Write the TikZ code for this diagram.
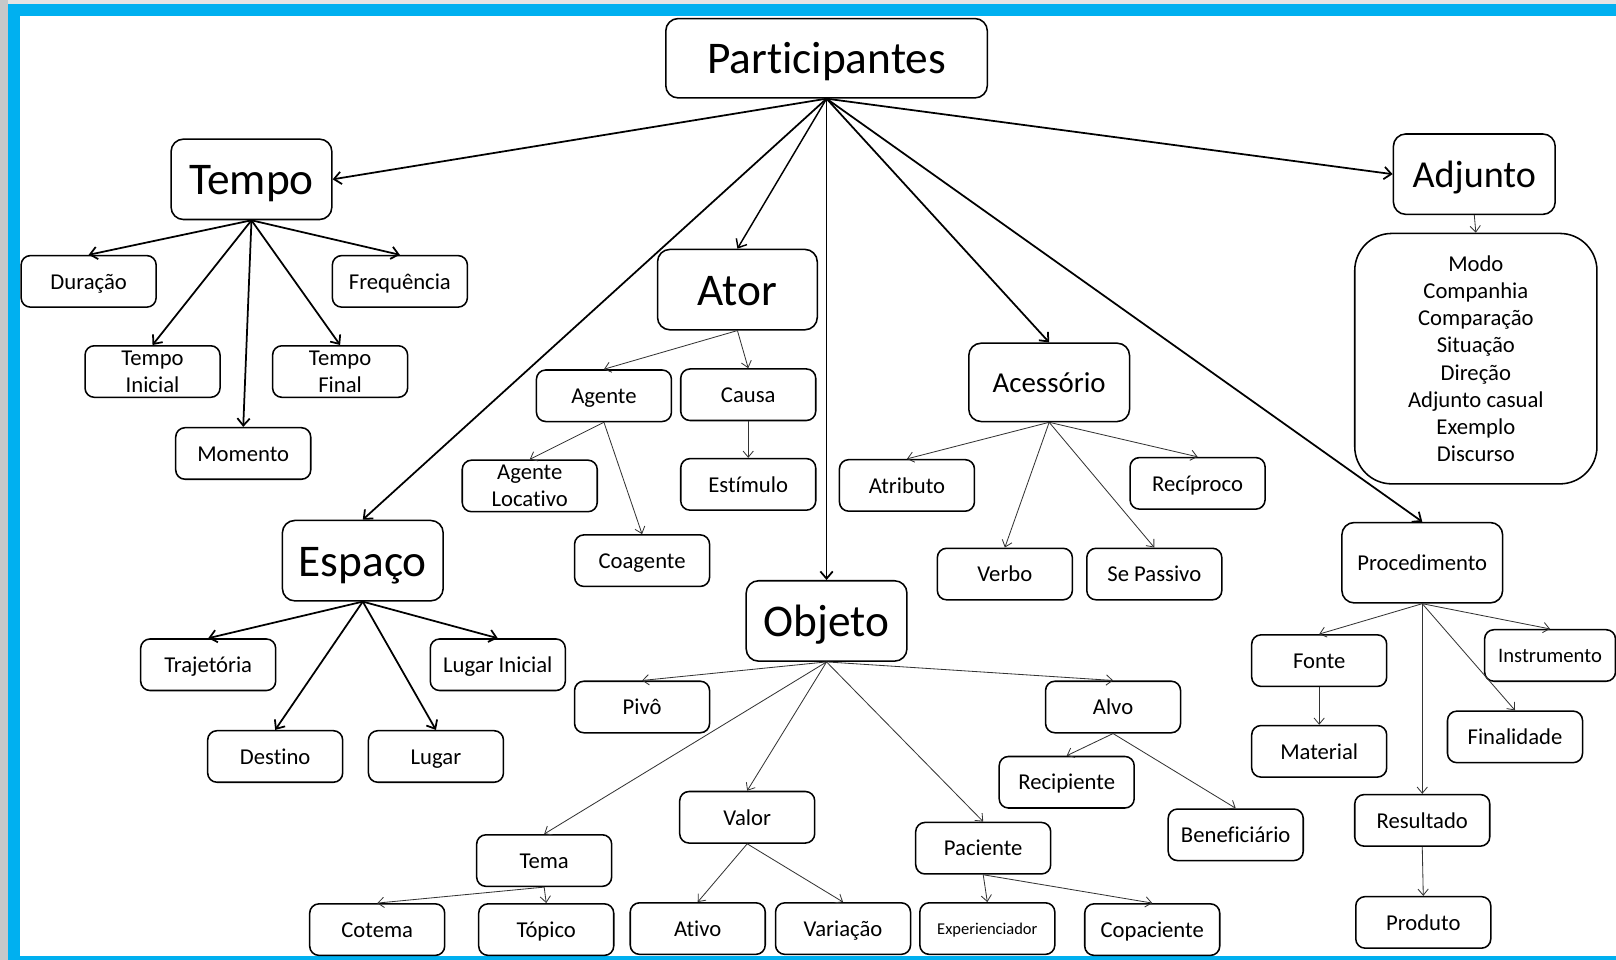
\documentclass[tikz,border=0pt]{standalone}
\usepackage{fontspec}
\setmainfont{Carlito}[Ligatures=NoCommon]
\usetikzlibrary{arrows.meta}
\definecolor{framecyan}{HTML}{00B0F0}
\definecolor{screengrey}{HTML}{E4E4E4}
\definecolor{sidegrey}{HTML}{C6C8C9}
\begin{document}
\begin{tikzpicture}[x=1pt,y=-1pt,
  boxbase/.style={draw, line width=1.5pt, rounded corners=9pt, fill=white,
    minimum width=131pt, minimum height=50pt, inner sep=0pt, align=center},
  box/.style={boxbase, font=\fontsize{22}{26}\selectfont, text height=20.5pt, text depth=5.5pt},
  listbox/.style={boxbase, font=\fontsize{22}{26}\selectfont},
  bigbox/.style={boxbase, rounded corners=12pt, minimum width=156pt, minimum height=78pt,
    font=\fontsize{44}{50}\selectfont, text height=40.9pt, text depth=11pt},
  heavyedge/.style={line width=1.7pt, -{Straight Barb[length=7pt,width=12pt]}},
  lightedge/.style={line width=0.8pt, draw=black!80, -{Straight Barb[length=6pt,width=10pt]}},
]
% window background and cyan frame
\fill[screengrey] (0,0) rectangle (1568,931);
\fill[sidegrey] (0,0) rectangle (7.8,931);
\fill[framecyan] (7.8,3.9) rectangle (1568,931);
\fill[white] (19.4,15.5) rectangle (1568,927.6);
\useasboundingbox (0,0) rectangle (1568,931);

% root
\node[bigbox, minimum width=312pt, minimum height=77pt] (part) at (802,56.5) {Participantes};

% main categories
\node[bigbox] (tempo)  at (244,174)   {Tempo};
\node[bigbox, minimum width=155pt] (ator) at (715.5,281) {Ator};
\node[bigbox] (espaco) at (352,544)   {Espaço};
\node[bigbox] (objeto) at (802,602.5) {Objeto};
\node[bigbox, minimum width=157pt, font=\fontsize{37}{44}\selectfont,
  text height=34.4pt, text depth=9.3pt] (adjunto) at (1430.5,169) {Adjunto};
\node[bigbox, minimum height=76pt, font=\fontsize{28}{34}\selectfont,
  text height=26pt, text depth=7pt] (acess) at (1018,371) {Acessório};
\node[bigbox, font=\fontsize{22}{26}\selectfont,
  text height=20.5pt, text depth=5.5pt] (proc) at (1380,546) {Procedimento};

% Tempo
\node[box] (duracao) at (86,273)  {Duração};
\node[box] (freq)    at (388,273) {Frequência};
\node[listbox] (tini) at (148,360.5) {Tempo\\Inicial};
\node[listbox] (tfin) at (330,360.5) {Tempo\\Final};
\node[box] (momento) at (236,440) {Momento};

% Ator
\node[box] (agente)  at (586,384) {Agente};
\node[box] (causa)   at (726,383) {Causa};
\node[listbox] (agloc) at (514,471.5) {Agente\\Locativo};
\node[box] (estim)   at (726,470) {Estímulo};
\node[box] (coag)    at (623,544) {Coagente};

% Espaço
\node[box] (traj)    at (202,645) {Trajetória};
\node[box] (lugini)  at (483,645) {Lugar Inicial};
\node[box] (destino) at (267,734) {Destino};
\node[box] (lugar)   at (423,734) {Lugar};

% Objeto
\node[box] (pivo)    at (623,686) {Pivô};
\node[box] (alvo)    at (1080,686) {Alvo};
\node[box] (recip)   at (1035,759) {Recipiente};
\node[box] (benef)   at (1199,810) {Beneficiário};
\node[box] (valor)   at (725,793) {Valor};
\node[box] (tema)    at (528,835) {Tema};
\node[box] (pac)     at (954,823) {Paciente};
\node[box] (cotema)  at (366,902) {Cotema};
\node[box] (topico)  at (530,902) {Tópico};
\node[box] (ativo)   at (677,901) {Ativo};
\node[box] (variac)  at (818,901) {Variação};
\node[box, font=\fontsize{16}{19}\selectfont, text height=14.9pt, text depth=4pt]
  (exper) at (958,901) {Experienciador};
\node[box] (copac)   at (1118,902) {Copaciente};

% Acessório
\node[box] (atrib)   at (880,471)  {Atributo};
\node[box] (recipr)  at (1162,469) {Recíproco};
\node[box] (verbo)   at (975,557)  {Verbo};
\node[box] (sepass)  at (1120,557) {Se Passivo};

% Adjunto
\node[listbox, rounded corners=36pt, minimum width=235pt, minimum height=243pt,
  font=\fontsize{22}{26.4}\selectfont] (adjlist) at (1432,348)
  {Modo\\Companhia\\Comparação\\Situação\\Direção\\Adjunto casual\\Exemplo\\Discurso};

% Procedimento
\node[box] (fonte)   at (1280,641) {Fonte};
\node[box, minimum width=127pt, font=\fontsize{20}{24}\selectfont,
  text height=18.6pt, text depth=5pt] (instr) at (1504,636) {Instrumento};
\node[box] (final)   at (1470,715) {Finalidade};
\node[box] (material) at (1280,729) {Material};
\node[box] (result)  at (1380,796) {Resultado};
\node[box] (produto) at (1381,895) {Produto};

% connectors from the root
\draw[heavyedge] (part.south) -- (tempo.east);
\draw[heavyedge] (part.south) -- (adjunto.west);
\draw[heavyedge] (part.south) -- (espaco.north);
\draw[heavyedge, line width=1.4pt] (part.south) -- (ator.north);
\draw[heavyedge] (part.south) -- (objeto.north);
\draw[heavyedge] (part.south) -- (acess.north);
\draw[heavyedge] (part.south) -- (proc.north);

% Tempo
\foreach \t in {duracao,freq,tini,tfin,momento}
  \draw[heavyedge] (tempo.south) -- (\t.north);

% Espaço
\foreach \t in {traj,lugini,destino,lugar}
  \draw[heavyedge] (espaco.south) -- (\t.north);

% Ator
\draw[lightedge] (ator.south) -- (agente.north);
\draw[lightedge] (ator.south) -- (causa.north);
\draw[lightedge] (agente.south) -- (agloc.north);
\draw[lightedge] (agente.south) -- (coag.north);
\draw[lightedge] (causa.south) -- (estim.north);

% Objeto
\foreach \t in {pivo,alvo,tema,valor,pac}
  \draw[lightedge] (objeto.south) -- (\t.north);
\draw[lightedge] (alvo.south) -- (recip.north);
\draw[lightedge] (alvo.south) -- (benef.north);
\draw[lightedge] (tema.south) -- (cotema.north);
\draw[lightedge] (tema.south) -- (topico.north);
\draw[lightedge] (valor.south) -- (ativo.north);
\draw[lightedge] (valor.south) -- (variac.north);
\draw[lightedge] (pac.south) -- (exper.north);
\draw[lightedge] (pac.south) -- (copac.north);

% Acessório
\foreach \t in {atrib,recipr,verbo,sepass}
  \draw[lightedge] (acess.south) -- (\t.north);

% Adjunto
\draw[lightedge] (adjunto.south) -- (adjlist.north);

% Procedimento
\foreach \t in {fonte,instr,final,result}
  \draw[lightedge] (proc.south) -- (\t.north);
\draw[lightedge] (fonte.south) -- (material.north);
\draw[lightedge] (result.south) -- (produto.north);
\end{tikzpicture}
\end{document}
